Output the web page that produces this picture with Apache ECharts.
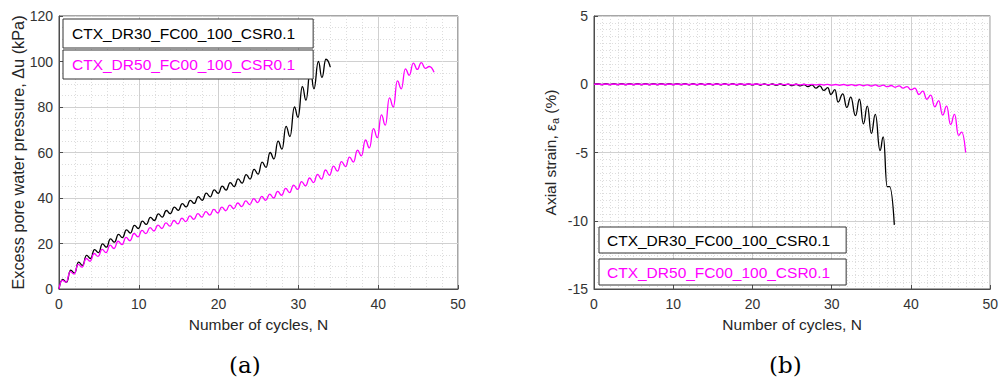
<!DOCTYPE html>
<html>
<head>
<meta charset="utf-8">
<script src="https://cdn.jsdelivr.net/npm/echarts/dist/echarts.min.js"></script>
<style>
html,body{margin:0;padding:0;background:#fff;}
#chart{width:1001px;height:383px;}
</style>
</head>
<body>
<div id="chart"></div>
<script>
// ---- data ----
const seriesNames = ['CTX_DR30_FC00_100_CSR0.1', 'CTX_DR50_FC00_100_CSR0.1'];
const captions = ['(a)', '(b)'];
const xTicks = [0, 10, 20, 30, 40, 50];
const poreTicks = [0, 20, 40, 60, 80, 100, 120];
const strainTicks = [-15, -10, -5, 0, 5];

// Excess pore water pressure (kPa) vs number of cycles, DR30
const dr30Pore = [
  [0,0],[0.45,4.2],[0.95,3.0],[1.45,8.3],[1.95,7.0],[2.45,11.8],[2.95,10.4],
  [3.45,14.8],[3.95,13.4],[4.45,17.3],[4.95,16.0],[5.45,19.8],[5.95,18.4],
  [6.45,22.0],[6.95,20.6],[7.45,24.0],[7.95,22.6],[8.45,26.0],[8.95,24.6],
  [9.45,28.0],[9.95,26.6],[10.45,29.8],[10.95,28.4],[11.45,31.5],[11.95,30.1],
  [12.45,33.0],[12.95,31.6],[13.45,34.5],[13.95,33.1],[14.45,36.0],[14.95,34.6],
  [15.45,37.5],[15.95,36.1],[16.45,39.0],[16.95,37.6],[17.45,40.6],[17.95,39.0],
  [18.45,42.1],[18.95,40.5],[19.45,43.6],[19.95,42.0],[20.45,45.2],[20.95,43.5],
  [21.45,46.8],[21.95,45.0],[22.45,48.4],[22.95,46.5],[23.45,50.3],[23.95,48.3],
  [24.45,52.6],[24.95,50.5],[25.45,55.8],[25.95,53.5],[26.45,60.0],[26.95,57.2],
  [27.45,65.0],[27.95,61.5],[28.45,71.5],[28.95,67.0],[29.5,80.0],[29.95,75.5],
  [30.5,89.0],[30.95,83.0],[31.5,96.5],[31.95,88.0],[32.5,100.0],[32.95,93.0],
  [33.45,101.0],[34.0,97.5]
];
// Excess pore water pressure (kPa) vs number of cycles, DR50
const dr50Pore = [
  [0,0],[0.4,3.8],[0.9,3.0],[1.4,7.6],[1.9,6.6],[2.4,10.8],[2.9,9.6],
  [3.4,13.4],[3.9,12.2],[4.4,15.6],[4.9,14.3],[5.4,17.4],[5.9,16.0],
  [6.4,19.3],[6.9,17.8],[7.4,21.0],[7.9,19.5],[8.4,22.7],[8.9,21.2],
  [9.4,24.4],[9.9,22.9],[10.4,25.8],[10.9,24.3],[11.4,27.0],[11.9,25.5],
  [12.4,28.1],[12.9,26.6],[13.4,29.1],[13.9,27.6],[14.4,30.1],[14.9,28.6],
  [15.4,31.1],[15.9,29.6],[16.4,32.1],[16.9,30.6],[17.4,33.1],[17.9,31.6],
  [18.4,34.0],[18.9,32.5],[19.4,35.0],[19.9,33.4],[20.4,36.0],[20.9,34.4],
  [21.4,36.9],[21.9,35.3],[22.4,37.8],[22.9,36.2],[23.4,38.7],[23.9,37.1],
  [24.4,39.7],[24.9,38.0],[25.4,40.7],[25.9,39.0],[26.4,41.7],[26.9,40.0],
  [27.4,42.9],[27.9,41.2],[28.4,44.2],[28.9,42.4],[29.4,45.7],[29.9,43.8],
  [30.4,47.2],[30.9,45.3],[31.4,48.8],[31.9,46.8],[32.4,50.4],[32.9,48.3],
  [33.4,52.3],[33.9,50.0],[34.4,54.0],[34.9,51.8],[35.4,56.0],[35.9,53.8],
  [36.4,58.0],[36.9,55.8],[37.4,61.0],[37.9,58.5],[38.4,65.5],[38.9,62.0],
  [39.4,70.5],[39.9,66.5],[40.4,76.5],[40.9,72.0],[41.4,84.0],[41.9,80.0],
  [42.4,91.5],[42.9,88.0],[43.4,96.8],[43.9,94.0],[44.4,99.3],[44.9,96.5],
  [45.4,99.5],[45.9,97.0],[46.4,97.8],[47.0,95.3]
];
// Axial strain (%) vs number of cycles, DR30
const dr30Strain = [
  [0,0],[0.5,0.04],[1,-0.03],[1.5,0.04],[2,-0.03],[2.5,0.04],[3,-0.03],[3.5,0.04],
  [4,-0.03],[4.5,0.04],[5,-0.03],[5.5,0.04],[6,-0.03],[6.5,0.04],[7,-0.03],[7.5,0.04],
  [8,-0.03],[8.5,0.04],[9,-0.03],[9.5,0.04],[10,-0.03],[10.5,0.04],[11,-0.03],[11.5,0.04],
  [12,-0.04],[12.5,0.04],[13,-0.04],[13.5,0.04],[14,-0.04],[14.5,0.04],[15,-0.04],[15.5,0.04],
  [16,-0.04],[16.5,0.04],[17,-0.04],[17.5,0.04],[18,-0.05],[18.5,0.03],[19,-0.05],[19.5,0.03],
  [20,-0.05],[20.5,0.03],[21,-0.06],[21.5,0.03],[22,-0.06],[22.5,0.02],[23,-0.07],[23.5,0.02],
  [24,-0.08],[24.5,0.01],[25,-0.1],[25.5,0.0],[26,-0.12],[26.5,-0.02],[27,-0.18],[27.5,-0.05],
  [28,-0.28],[28.5,-0.12],[29,-0.45],[29.5,-0.25],[29.9,-0.75],[30.4,-0.4],[30.8,-1.3],
  [31.4,-0.7],[31.9,-1.7],[32.4,-0.95],[33.0,-2.3],[33.5,-1.1],[34.0,-2.9],[34.5,-1.6],
  [35.0,-3.6],[35.5,-2.2],[36.1,-4.85],[36.5,-3.85],[37.0,-7.5],[37.3,-7.5],[37.9,-10.3]
];
// Axial strain (%) vs number of cycles, DR50
const dr50Strain = [
  [0,0],[0.5,0.02],[1,-0.02],[1.5,0.02],[2,-0.02],[2.5,0.02],[3,-0.02],[3.5,0.02],
  [4,-0.02],[4.5,0.02],[5,-0.02],[5.5,0.02],[6,-0.02],[6.5,0.02],[7,-0.02],[7.5,0.02],
  [8,-0.02],[8.5,0.02],[9,-0.02],[9.5,0.02],[10,-0.02],[10.5,0.02],[11,-0.02],[11.5,0.02],
  [12,-0.02],[12.5,0.02],[13,-0.02],[13.5,0.02],[14,-0.02],[14.5,0.02],[15,-0.02],[15.5,0.02],
  [16,-0.02],[16.5,0.02],[17,-0.02],[17.5,0.02],[18,-0.02],[18.5,0.02],[19,-0.02],[19.5,0.02],
  [20,-0.02],[20.5,0.02],[21,-0.02],[21.5,0.01],[22,-0.03],[22.5,0.01],[23,-0.03],[23.5,0.01],
  [24,-0.03],[24.5,0.0],[25,-0.04],[25.5,0.0],[26,-0.04],[26.5,0.0],[27,-0.05],[27.5,-0.01],
  [28,-0.05],[28.5,-0.01],[29,-0.06],[29.5,-0.01],[30,-0.07],[30.5,-0.02],[31,-0.08],[31.5,-0.02],
  [32,-0.09],[32.5,-0.03],[33,-0.1],[33.5,-0.03],[34,-0.11],[34.5,-0.04],[35,-0.13],[35.5,-0.05],
  [36,-0.15],[36.5,-0.07],[37,-0.18],[37.5,-0.09],[38,-0.22],[38.5,-0.12],[39,-0.28],[39.5,-0.17],
  [40,-0.4],[40.5,-0.28],[41,-0.75],[41.5,-0.5],[42,-1.1],[42.5,-0.8],[43,-1.65],[43.5,-1.2],
  [44,-2.25],[44.5,-1.6],[45,-2.95],[45.5,-2.2],[46,-3.75],[46.4,-3.5],[46.9,-5.0]
];

// ---- styling ----
const FONT = '"Liberation Sans", Arial, Helvetica, sans-serif';
const AXIS_COLOR = '#4d4d4d';
const TEXT_COLOR = '#262626';
const COLORS = ['#000000', '#ff00ff'];

function xAxisCfg(gridIndex, minorSplit) {
  return {
    type: 'value', gridIndex: gridIndex,
    min: xTicks[0], max: xTicks[xTicks.length - 1], interval: xTicks[1] - xTicks[0],
    name: 'Number of cycles, N', nameLocation: 'middle', nameGap: 27,
    nameTextStyle: { fontFamily: FONT, fontSize: 15.5, color: TEXT_COLOR },
    axisLine: { show: true, onZero: false, lineStyle: { color: AXIS_COLOR, width: 1 } },
    axisTick: { show: true, inside: true, length: 4, lineStyle: { color: AXIS_COLOR } },
    minorTick: { show: false, splitNumber: minorSplit },
    axisLabel: { fontFamily: FONT, fontSize: 14, color: '#333', margin: 8 },
    splitLine: { show: true, lineStyle: { color: '#d0d0d0', width: 1 } },
    minorSplitLine: { show: true, lineStyle: { color: '#dddddd', width: 1, type: [1, 2] } }
  };
}
function yAxisCfg(gridIndex, ticks, name, gap, minorSplit, nameSize, rich) {
  const cfg = {
    type: 'value', gridIndex: gridIndex,
    min: ticks[0], max: ticks[ticks.length - 1], interval: ticks[1] - ticks[0],
    name: name, nameLocation: 'middle', nameGap: gap, nameRotate: 90,
    nameTextStyle: { fontFamily: FONT, fontSize: nameSize, color: TEXT_COLOR },
    axisLine: { show: true, onZero: false, lineStyle: { color: AXIS_COLOR, width: 1 } },
    axisTick: { show: true, inside: true, length: 4, lineStyle: { color: AXIS_COLOR } },
    minorTick: { show: false, splitNumber: minorSplit },
    axisLabel: { fontFamily: FONT, fontSize: 14, color: '#333', margin: 6 },
    splitLine: { show: true, lineStyle: { color: '#d0d0d0', width: 1 } },
    minorSplitLine: { show: true, lineStyle: { color: '#dddddd', width: 1, type: [1, 2] } }
  };
  if (rich) cfg.nameTextStyle.rich = rich;
  return cfg;
}
function legendCfg(idx, left, top, padding) {
  return {
    show: true, orient: 'vertical', left: left, top: top,
    data: [{ name: seriesNames[idx], textStyle: { color: COLORS[idx] } }],
    selectedMode: false,
    itemWidth: 0, itemHeight: 0, itemGap: 0,
    itemStyle: { opacity: 0 }, lineStyle: { opacity: 0 },
    backgroundColor: '#ffffff', borderColor: '#333333', borderWidth: 1, borderRadius: 0,
    padding: padding,
    textStyle: { fontFamily: FONT, fontSize: 15.5, lineHeight: 17 }
  };
}
function lineSeries(idx, data, xi, yi) {
  return {
    type: 'line', name: seriesNames[idx], data: data,
    xAxisIndex: xi, yAxisIndex: yi,
    showSymbol: false, symbol: 'none', smooth: 0.5, smoothMonotone: 'x',
    lineStyle: { color: COLORS[idx], width: 1.3 }, itemStyle: { color: COLORS[idx] },
    animation: false, silent: true, z: 3 + idx
  };
}

const chart = echarts.init(document.getElementById('chart'), null, { renderer: 'svg', width: 1001, height: 383 });
chart.setOption({
  backgroundColor: '#ffffff',
  animation: false,
  grid: [
    { left: 59, top: 16, width: 399, height: 273, show: true, borderColor: AXIS_COLOR, borderWidth: 1, backgroundColor: 'transparent', containLabel: false },
    { left: 594, top: 16, width: 400, height: 273, show: true, borderColor: AXIS_COLOR, borderWidth: 1, backgroundColor: 'transparent', containLabel: false }
  ],
  xAxis: [xAxisCfg(0, 5), xAxisCfg(1, 10)],
  yAxis: [
    yAxisCfg(0, poreTicks, 'Excess pore water pressure, \u0394u (kPa)', 31, 4, 16.3),
    yAxisCfg(1, strainTicks, 'Axial strain, \u03b5{sub|a} (%)', 34, 10, 15.5,
      { sub: { fontFamily: FONT, fontSize: 11, color: TEXT_COLOR, verticalAlign: 'bottom', padding: [8, 0, 0, 0] } })
  ],
  legend: [
    legendCfg(0, 63, 19, [6, 18, 6, 3]),
    legendCfg(1, 63, 50, [6, 18, 6, 3]),
    legendCfg(0, 599, 227, [5, 16, 4, 2]),
    legendCfg(1, 599, 259, [5, 16, 4, 2])
  ],
  graphic: [
    { type: 'text', left: 229, top: 353, style: { text: captions[0], font: '23px "DejaVu Serif", serif', fill: '#000' } },
    { type: 'text', left: 769, top: 353, style: { text: captions[1], font: '23px "DejaVu Serif", serif', fill: '#000' } }
  ],
  series: [
    lineSeries(0, dr30Pore, 0, 0),
    lineSeries(1, dr50Pore, 0, 0),
    lineSeries(0, dr30Strain, 1, 1),
    lineSeries(1, dr50Strain, 1, 1)
  ]
});
</script>
</body>
</html>
